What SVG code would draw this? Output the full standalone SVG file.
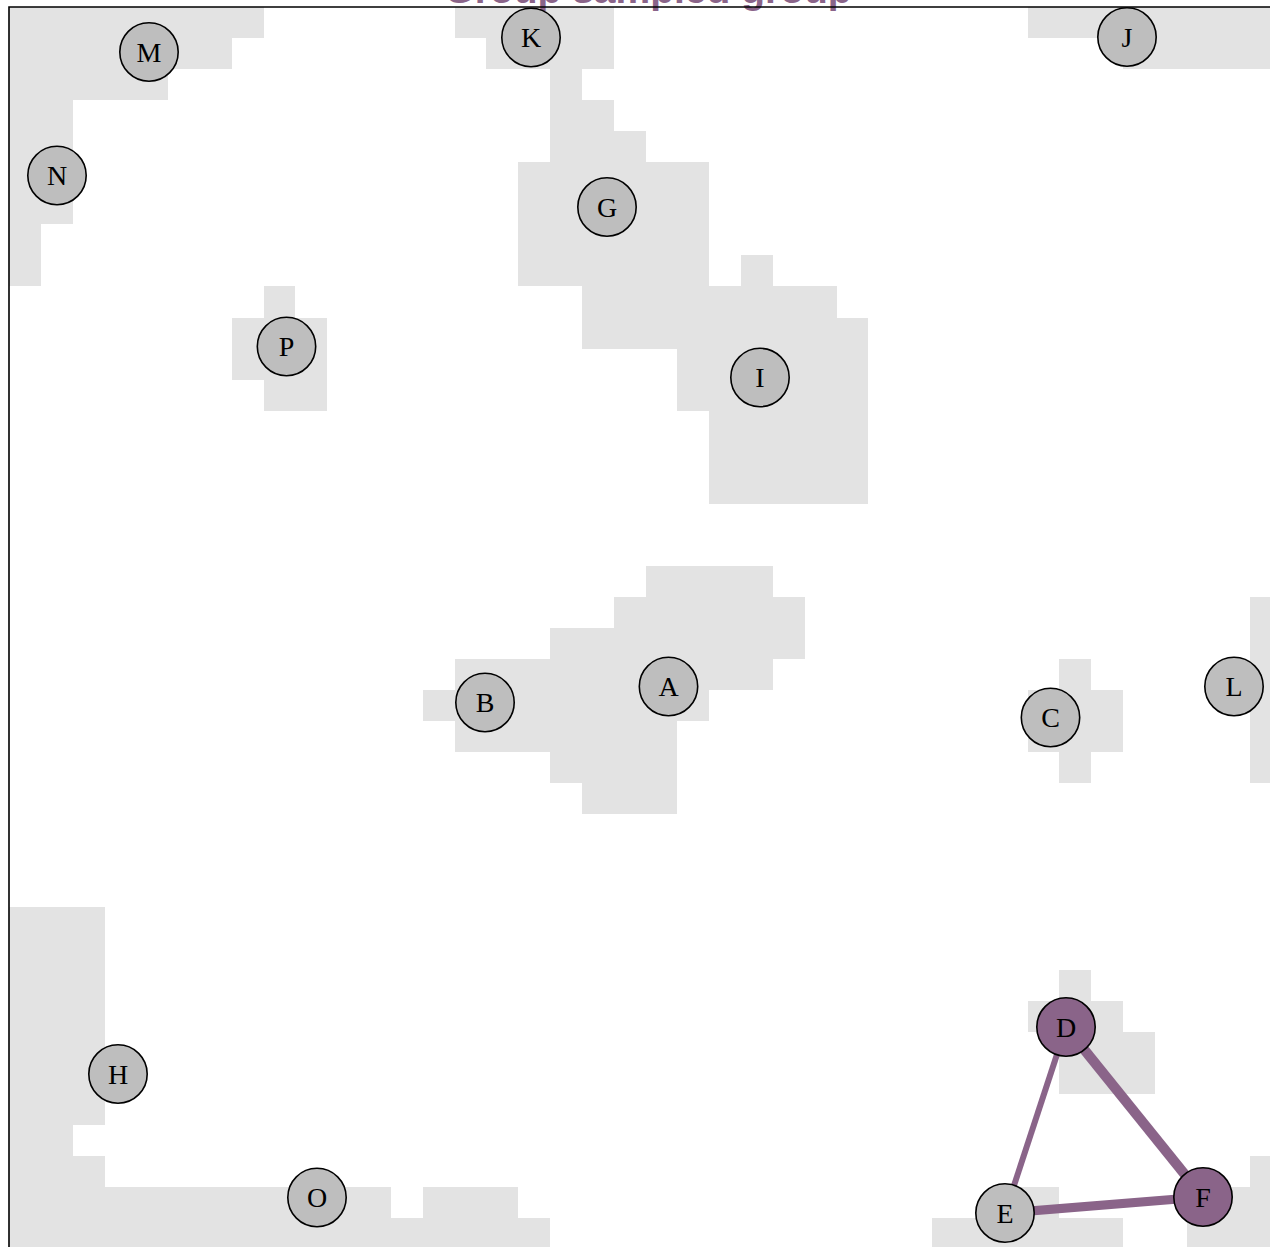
<svg xmlns="http://www.w3.org/2000/svg" width="1270" height="1247" viewBox="0 0 1270 1247">
<style>
.cell{fill:#e3e3e3;stroke:none;shape-rendering:crispEdges}
.node circle{fill:#bebebe;stroke:#000;stroke-width:1.6}
.node.sel circle{fill:#8a6489}
.node text{font-family:"Liberation Serif","Times New Roman",serif;font-size:28px;fill:#000;text-anchor:middle}
.edge{stroke:#8a6489;stroke-linecap:butt;fill:none}
.title{font-family:"Liberation Sans",Arial,sans-serif;font-weight:bold;font-size:39px;fill:#8a6489;text-anchor:middle}
.frame{fill:none;stroke:#000;stroke-width:1.6}
</style>
<rect width="1270" height="1247" fill="#fff"/>
<g id="regions">
<!-- M / N -->
<rect class="cell" x="9" y="7" width="255" height="31"/>
<rect class="cell" x="9" y="38" width="223" height="31"/>
<rect class="cell" x="9" y="69" width="159" height="31"/>
<rect class="cell" x="9" y="100" width="64" height="124"/>
<rect class="cell" x="9" y="224" width="32" height="62"/>
<!-- K / G / I -->
<rect class="cell" x="455" y="7" width="159" height="31"/>
<rect class="cell" x="486" y="38" width="128" height="31"/>
<rect class="cell" x="550" y="69" width="32" height="31"/>
<rect class="cell" x="550" y="100" width="64" height="31"/>
<rect class="cell" x="550" y="131" width="96" height="31"/>
<rect class="cell" x="518" y="162" width="191" height="124"/>
<rect class="cell" x="741" y="255" width="32" height="31"/>
<rect class="cell" x="582" y="286" width="255" height="32"/>
<rect class="cell" x="582" y="318" width="286" height="31"/>
<rect class="cell" x="677" y="349" width="191" height="62"/>
<rect class="cell" x="709" y="411" width="159" height="93"/>
<!-- J -->
<rect class="cell" x="1028" y="7" width="242" height="31"/>
<rect class="cell" x="1123" y="38" width="147" height="31"/>
<!-- P -->
<rect class="cell" x="264" y="286" width="31" height="32"/>
<rect class="cell" x="232" y="318" width="95" height="62"/>
<rect class="cell" x="264" y="380" width="63" height="31"/>
<!-- A / B -->
<rect class="cell" x="646" y="566" width="127" height="31"/>
<rect class="cell" x="614" y="597" width="191" height="31"/>
<rect class="cell" x="550" y="628" width="255" height="31"/>
<rect class="cell" x="455" y="659" width="318" height="31"/>
<rect class="cell" x="423" y="690" width="286" height="31"/>
<rect class="cell" x="455" y="721" width="222" height="31"/>
<rect class="cell" x="550" y="752" width="127" height="31"/>
<rect class="cell" x="582" y="783" width="95" height="31"/>
<!-- C -->
<rect class="cell" x="1059" y="659" width="32" height="31"/>
<rect class="cell" x="1028" y="690" width="95" height="62"/>
<rect class="cell" x="1059" y="752" width="32" height="31"/>
<!-- L -->
<rect class="cell" x="1250" y="597" width="20" height="186"/>
<!-- D -->
<rect class="cell" x="1059" y="970" width="32" height="31"/>
<rect class="cell" x="1028" y="1001" width="95" height="31"/>
<rect class="cell" x="1059" y="1032" width="96" height="62"/>
<!-- F -->
<rect class="cell" x="1250" y="1156" width="20" height="31"/>
<rect class="cell" x="1187" y="1187" width="83" height="60"/>
<!-- E -->
<rect class="cell" x="996" y="1187" width="63" height="31"/>
<rect class="cell" x="932" y="1218" width="191" height="29"/>
<!-- H / O -->
<rect class="cell" x="9" y="907" width="96" height="218"/>
<rect class="cell" x="9" y="1125" width="64" height="31"/>
<rect class="cell" x="9" y="1156" width="96" height="31"/>
<rect class="cell" x="9" y="1187" width="382" height="31"/>
<rect class="cell" x="423" y="1187" width="95" height="31"/>
<rect class="cell" x="9" y="1218" width="541" height="29"/>
</g>
<text class="title" x="648" y="3">Group sampled group</text>
<path class="frame" d="M9,1247 V7 H1270"/>
<g id="connectors">
<line class="edge" x1="1066" y1="1027" x2="1203" y2="1197" stroke-width="10"/>
<line class="edge" x1="1005" y1="1213" x2="1203" y2="1197" stroke-width="9"/>
<line class="edge" x1="1066" y1="1027" x2="1005" y2="1213" stroke-width="6"/>
</g>
<g id="node-M" class="node"><circle cx="149" cy="52" r="29.2"/><text x="149" y="61.5">M</text></g>
<g id="node-N" class="node"><circle cx="57" cy="175.5" r="29.2"/><text x="57" y="185">N</text></g>
<g id="node-K" class="node"><circle cx="531" cy="37.5" r="29.2"/><text x="531" y="47">K</text></g>
<g id="node-J" class="node"><circle cx="1127" cy="37" r="29.2"/><text x="1127" y="46.5">J</text></g>
<g id="node-G" class="node"><circle cx="607" cy="207" r="29.2"/><text x="607" y="216.5">G</text></g>
<g id="node-P" class="node"><circle cx="286.5" cy="346.5" r="29.2"/><text x="286.5" y="356">P</text></g>
<g id="node-I" class="node"><circle cx="760" cy="377.5" r="29.2"/><text x="760" y="387">I</text></g>
<g id="node-A" class="node"><circle cx="668.5" cy="686.5" r="29.2"/><text x="668.5" y="696">A</text></g>
<g id="node-B" class="node"><circle cx="485" cy="702.5" r="29.2"/><text x="485" y="712">B</text></g>
<g id="node-C" class="node"><circle cx="1050.5" cy="717.5" r="29.2"/><text x="1050.5" y="727">C</text></g>
<g id="node-L" class="node"><circle cx="1234" cy="686.5" r="29.2"/><text x="1234" y="696">L</text></g>
<g id="node-H" class="node"><circle cx="118" cy="1074" r="29.2"/><text x="118" y="1083.5">H</text></g>
<g id="node-O" class="node"><circle cx="317" cy="1197.5" r="29.2"/><text x="317" y="1207">O</text></g>
<g id="node-E" class="node"><circle cx="1005" cy="1213" r="29.2"/><text x="1005" y="1222.5">E</text></g>
<g id="node-D" class="node sel"><circle cx="1066" cy="1027" r="29.2"/><text x="1066" y="1036.5">D</text></g>
<g id="node-F" class="node sel"><circle cx="1203" cy="1197" r="29.2"/><text x="1203" y="1206.5">F</text></g>
</svg>
